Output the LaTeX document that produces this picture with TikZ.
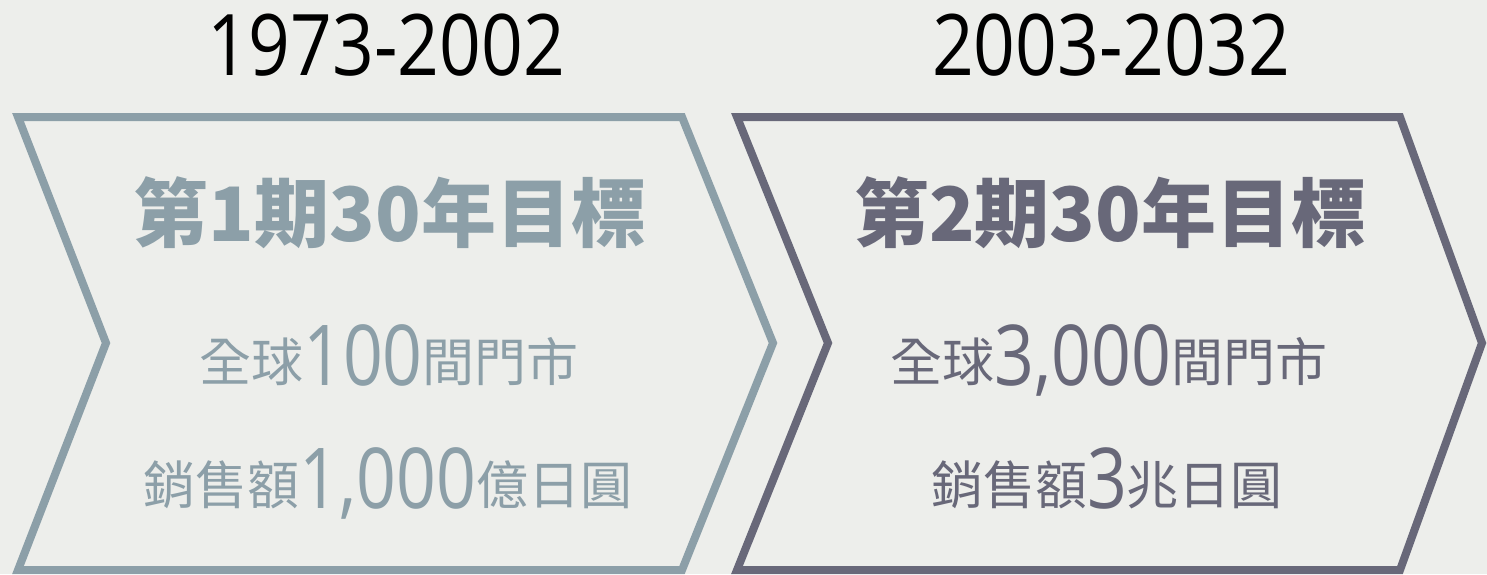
\documentclass[tikz,border=0pt]{standalone}
\usepackage{fontspec}
\newfontfamily\cjk{Noto Sans CJK TC}
\newfontfamily\lat{Open Sans}[FakeStretch=0.83]
\newfontfamily\lath{Open Sans}[FakeStretch=0.86]
\definecolor{cA}{HTML}{8C9FA8}
\definecolor{cB}{HTML}{686879}
\definecolor{bgc}{HTML}{EDEEEB}
\newcommand\cjs[1]{{\fontsize{52}{60}\selectfont\cjk\raisebox{0.07em}{#1}}}
\newcommand\nums[1]{{\fontsize{84}{90}\selectfont\lat #1}}
\tikzset{
  chev/.style={line width=8pt, line join=miter},
  head/.style={anchor=base, inner sep=0pt, text=black, font=\fontsize{85}{90}\selectfont\lath},
  ttl/.style={anchor=base, inner sep=0pt, font=\fontsize{75}{80}\selectfont\cjk\bfseries},
  line/.style={anchor=base, inner sep=0pt}
}
\begin{document}
\begin{tikzpicture}[x=1pt, y=-1pt]
\fill[bgc] (0,0) rectangle (1487,574);
\useasboundingbox (0,0) rectangle (1487,574);
% chevrons
\draw[chev, cA] (18,117) -- (682,117) -- (773,343) -- (682,570) -- (18,570) -- (106,343) -- cycle;
\draw[chev, cB] (737,117) -- (1400,117) -- (1482,343) -- (1400,570) -- (737,570) -- (828,343) -- cycle;
% headers
\node[head] (h1) at (386,75) {1973-2002};
\node[head] (h2) at (1111,75) {2003-2032};
% titles
\node[ttl, text=cA] (t1) at (390,241) {第1期30年目標};
\node[ttl, text=cB] (t2) at (1110,241) {第2期30年目標};
% lines
\node[line, text=cA] (a1) at (389,385) {\cjs{全球}\nums{100}\cjs{間門市}};
\node[line, text=cA] (a2) at (388,508) {\cjs{銷售額}\nums{1,000}\cjs{億日圓}};
\node[line, text=cB] (b1) at (1109,385) {\cjs{全球}\nums{3,000}\cjs{間門市}};
\node[line, text=cB] (b2) at (1107,508) {\cjs{銷售額}\nums{3}\cjs{兆日圓}};
\end{tikzpicture}
\end{document}
